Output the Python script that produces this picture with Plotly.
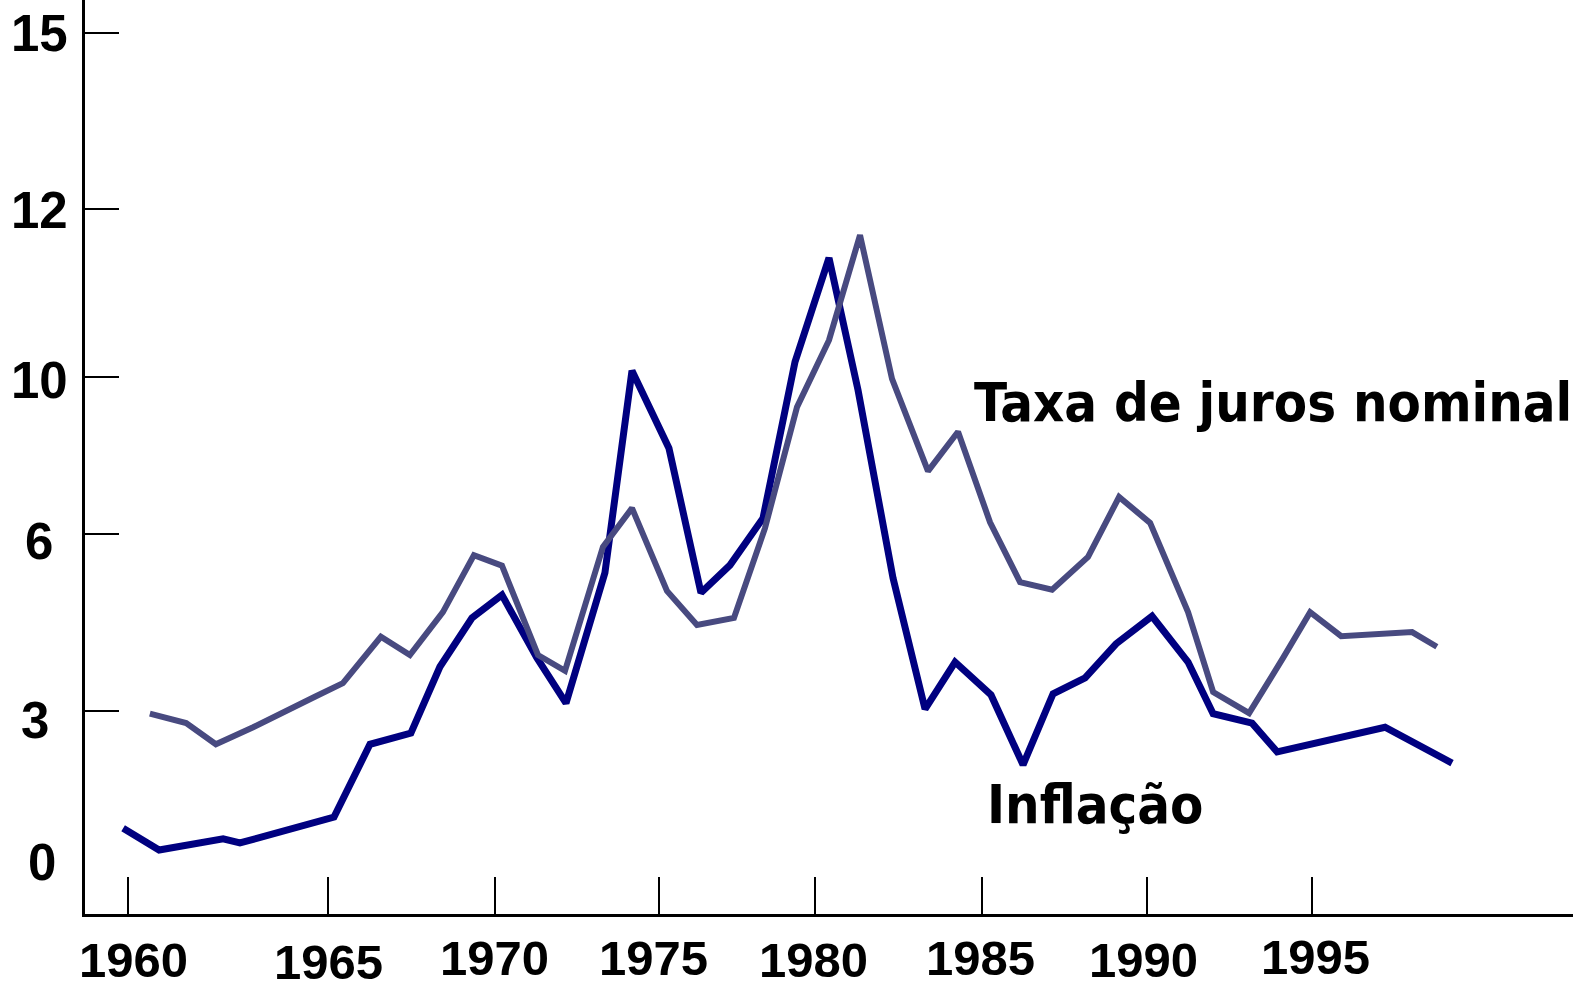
import plotly.graph_objects as go

# ---- data (in the chart's own axis units) ----
INFL_YEAR = [1958.61, 1959.7, 1961.64, 1962.15, 1965.0, 1966.09, 1967.33, 1968.21, 1969.18, 1970.09,
             1971.15, 1972.03, 1973.21, 1974.03, 1975.15, 1976.12, 1977.0, 1978.0, 1978.97, 1980.0,
             1980.88, 1981.94, 1982.91, 1983.82, 1984.91, 1985.88, 1986.79, 1987.76, 1988.7, 1989.79,
             1990.88, 1991.64, 1992.82, 1993.58, 1996.85, 1998.88]
INFL_VALUE = [1.46, 1.09, 1.28, 1.21, 1.65, 2.89, 3.08, 4.21, 5.04, 5.43,
              4.36, 3.59, 5.81, 9.25, 7.93, 5.47, 5.94, 6.74, 9.40, 11.17,
              8.92, 5.72, 3.49, 4.29, 3.73, 2.54, 3.75, 4.02, 4.60, 5.07,
              4.29, 3.41, 3.25, 2.76, 3.18, 2.57]

JUROS_YEAR = [1959.42, 1960.52, 1961.42, 1962.55, 1964.42, 1965.27, 1966.42, 1967.30, 1968.30, 1969.24,
              1970.09, 1971.18, 1972.0, 1973.15, 1974.03, 1975.09, 1976.0, 1977.12, 1978.06, 1979.03,
              1980.0, 1980.94, 1981.91, 1983.0, 1983.91, 1984.88, 1985.79, 1986.76, 1987.85, 1988.79,
              1989.73, 1990.88, 1991.64, 1992.73, 1993.76, 1994.58, 1995.52, 1997.67, 1998.42]
JUROS_VALUE = [3.41, 3.25, 2.89, 3.18, 3.70, 3.93, 4.72, 4.41, 5.14, 6.11,
               5.93, 4.41, 4.14, 6.25, 6.91, 5.50, 4.92, 5.04, 6.57, 8.63,
               9.77, 11.56, 9.11, 7.54, 8.21, 6.67, 5.65, 5.52, 6.08, 7.10,
               6.66, 5.14, 3.78, 3.42, 4.36, 5.14, 4.73, 4.80, 4.55]

X_TICK_TEXT = ["1960", "1965", "1970", "1975", "1980", "1985", "1990", "1995"]
X_TICK_POS = [1958.76, 1964.82, 1969.88, 1974.85, 1979.58, 1984.64, 1989.64, 1994.64]
Y_TICK_TEXT = ["0", "3", "6", "10", "12", "15"]
Y_TICK_POS = [None, 3.46, 6.47, 9.14, 12.0, 15.0]

SERIES_NAMES = ["Inflação", "Taxa de juros nominal"]

# ---- layout / style (positions of the hand-placed labels) ----
Y_TOP = 15.562
X_LABEL_X = [1958.91, 1964.82, 1969.85, 1974.67, 1979.52, 1984.58, 1989.52, 1994.73]
X_LABEL_Y = [-0.78, -0.81, -0.75, -0.75, -0.78, -0.75, -0.78, -0.73]
Y_LABEL_Y = [0.87, 3.30, 6.35, 9.09, 11.97, 15.0]
Y_LABEL_XPAPER = [-0.0289, -0.0336, -0.0309, -0.0309, -0.0309, -0.0309]

NAVY = "#000080"
SLATE = "#484A80"
NUM_FONT = dict(family="Liberation Sans, Arial, sans-serif", size=51, color="black", weight="bold")
XNUM_FONT = dict(family="Liberation Sans, Arial, sans-serif", size=49, color="black", weight="bold")
TXT_FONT = dict(family="DejaVu Sans Condensed, DejaVu Sans, sans-serif", size=54, color="black", weight="bold")

fig = go.Figure()
fig.add_trace(go.Scatter(x=INFL_YEAR, y=INFL_VALUE, mode="lines", name=SERIES_NAMES[0],
                         line=dict(color=NAVY, width=7), hoverinfo="skip"))
fig.add_trace(go.Scatter(x=JUROS_YEAR, y=JUROS_VALUE, mode="lines", name=SERIES_NAMES[1],
                         line=dict(color=SLATE, width=6), hoverinfo="skip"))

annotations = []
for t, x, y in zip(X_TICK_TEXT, X_LABEL_X, X_LABEL_Y):
    annotations.append(dict(text=t, x=x, y=y / Y_TOP, xref="x", yref="paper", showarrow=False,
                            xanchor="center", yanchor="middle", font=XNUM_FONT))
for t, xp, y in zip(Y_TICK_TEXT, Y_LABEL_XPAPER, Y_LABEL_Y):
    annotations.append(dict(text=t, x=xp, y=y, xref="paper", yref="y", showarrow=False,
                            xanchor="center", yanchor="middle", font=NUM_FONT))
annotations.append(dict(text=SERIES_NAMES[1], x=1984.33, y=8.71, xref="x", yref="y",
                        showarrow=False, xanchor="left", yanchor="middle", font=TXT_FONT))
annotations.append(dict(text=SERIES_NAMES[0], x=1984.72, y=1.86, xref="x", yref="y",
                        showarrow=False, xanchor="left", yanchor="middle", font=TXT_FONT))

fig.update_layout(
    width=1573, height=990,
    margin=dict(l=85, r=0, t=0, b=76, pad=0),
    paper_bgcolor="white", plot_bgcolor="white",
    showlegend=False,
    annotations=annotations,
    xaxis=dict(range=[1957.4545, 2002.5455], showgrid=False, zeroline=False,
               showline=True, linecolor="black", linewidth=3,
               tickmode="array", tickvals=X_TICK_POS, ticktext=X_TICK_TEXT,
               showticklabels=False, ticks="inside", ticklen=37, tickwidth=2, tickcolor="black"),
    yaxis=dict(range=[0, Y_TOP], showgrid=False, zeroline=False,
               showline=True, linecolor="black", linewidth=3,
               tickmode="array", tickvals=[v for v in Y_TICK_POS if v is not None],
               showticklabels=False, ticks="inside", ticklen=34, tickwidth=2, tickcolor="black"),
)

fig.write_html("out.html", config={"displayModeBar": False},
               post_script="document.body.style.margin='0';")
